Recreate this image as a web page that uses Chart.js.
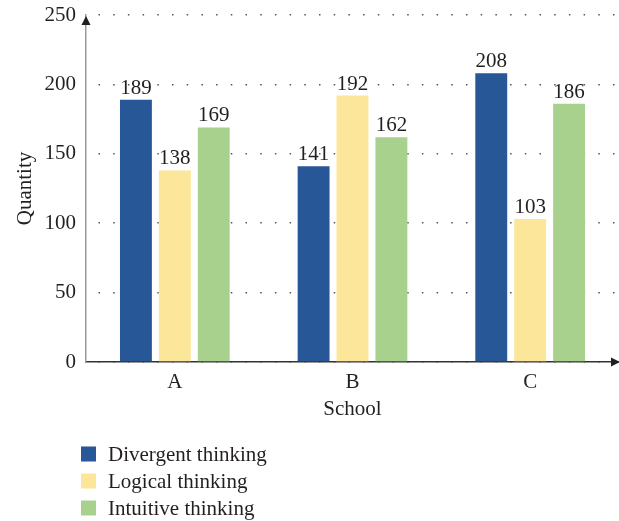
<!DOCTYPE html>
<html>
<head>
<meta charset="utf-8">
<script src="https://cdn.jsdelivr.net/npm/chart.js@4"></script>
<style>
  html, body { margin: 0; padding: 0; background: #ffffff; }
  #wrap { width: 619px; height: 521px; position: relative; }
</style>
</head>
<body>
<div id="wrap"><canvas id="c" width="619" height="521"></canvas></div>
<script>
const categories = ['A', 'B', 'C'];
const seriesNames = ['Divergent thinking', 'Logical thinking', 'Intuitive thinking'];
const divergent = [189, 141, 208];
const logical = [138, 192, 103];
const intuitive = [169, 162, 186];
const yTicks = [0, 50, 100, 150, 200, 250];
const colors = ['#285797', '#fce699', '#a8d18d'];

const FONT = "'Liberation Serif', 'Times New Roman', serif";
const FS = 21;
const TEXT = '#231f20';

const overlay = {
  id: 'overlay',
  afterDatasetsDraw(chart) {
    const ctx = chart.ctx;
    ctx.save();
    ctx.font = FS + 'px ' + FONT;
    ctx.fillStyle = TEXT;
    ctx.textAlign = 'center';
    ctx.textBaseline = 'alphabetic';
    chart.data.datasets.forEach((ds, i) => {
      const meta = chart.getDatasetMeta(i);
      meta.data.forEach((bar, j) => {
        ctx.fillText(String(ds.data[j]), bar.x, bar.y - 6);
      });
    });
    ctx.restore();
  },
  afterDraw(chart) {
    const ctx = chart.ctx;
    const a = chart.chartArea;
    ctx.save();
    ctx.fillStyle = '#231f20';
    ctx.beginPath();
    ctx.moveTo(a.left, a.top + 1);
    ctx.lineTo(a.left - 4.5, a.top + 10);
    ctx.lineTo(a.left + 4.5, a.top + 10);
    ctx.closePath();
    ctx.fill();
    ctx.beginPath();
    ctx.moveTo(a.right + 1, a.bottom);
    ctx.lineTo(a.right - 8, a.bottom - 4.5);
    ctx.lineTo(a.right - 8, a.bottom + 4.5);
    ctx.closePath();
    ctx.fill();
    ctx.font = FS + 'px ' + FONT;
    ctx.textAlign = 'left';
    ctx.textBaseline = 'middle';
    chart.data.datasets.forEach((ds, i) => {
      const cy = 454 + i * 27;
      ctx.fillStyle = ds.backgroundColor;
      ctx.fillRect(81, cy - 7.5, 15, 15);
      ctx.fillStyle = TEXT;
      ctx.fillText(ds.label, 108, cy + 1);
    });
    ctx.restore();
  }
};

new Chart(document.getElementById('c'), {
  type: 'bar',
  data: {
    labels: categories,
    datasets: [
      { label: seriesNames[0], data: divergent, backgroundColor: colors[0] },
      { label: seriesNames[1], data: logical, backgroundColor: colors[1] },
      { label: seriesNames[2], data: intuitive, backgroundColor: colors[2] }
    ]
  },
  options: {
    responsive: false,
    animation: false,
    devicePixelRatio: 1,
    categoryPercentage: 0.657,
    barPercentage: 0.82,
    layout: { padding: { top: 15, right: 0, bottom: 99, left: 0 } },
    plugins: { legend: { display: false }, tooltip: { enabled: false } },
    scales: {
      x: {
        grid: { display: false, drawTicks: false },
        border: { display: true, color: '#333333', width: 1.5 },
        ticks: { color: TEXT, font: { family: FONT, size: FS }, padding: 8 },
        title: { display: true, text: 'School', color: TEXT, font: { family: FONT, size: FS }, padding: { top: 4, bottom: 0 } },
        afterFit(s) { s.height = 60; s.paddingLeft = 0; s.paddingRight = 0; }
      },
      y: {
        min: 0, max: 250,
        afterBuildTicks(s) { s.ticks = yTicks.map(v => ({ value: v })); },
        grid: { color: '#555555', lineWidth: 1.5, drawTicks: false },
        border: { display: true, color: '#9a9a9a', width: 1.5, dash: [1.5, 13.2], dashOffset: 2.7 },
        ticks: { color: TEXT, font: { family: FONT, size: FS }, padding: 10 },
        title: { display: true, text: 'Quantity', color: TEXT, font: { family: FONT, size: FS }, padding: { top: 13, bottom: 0, left: 0, right: 0 } },
        afterFit(s) { s.width = 86; s.paddingTop = 0; s.paddingBottom = 0; }
      }
    }
  },
  plugins: [overlay]
});
</script>
</body>
</html>
